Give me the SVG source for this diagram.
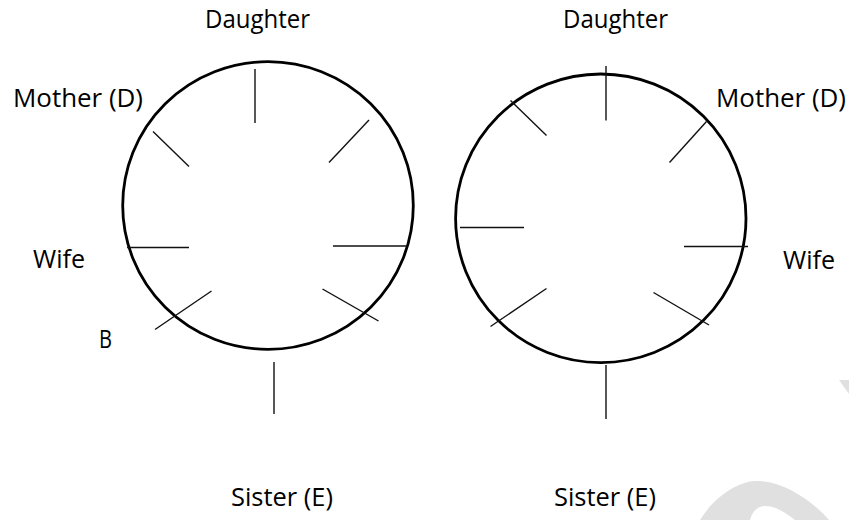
<svg xmlns="http://www.w3.org/2000/svg" width="849" height="520" viewBox="0 0 849 520">
  <style>
    .table { fill: none; stroke: #000; stroke-width: 2.8; }
    .seat { stroke: #111; stroke-width: 1.4; fill: none; }
    .lbl { font-family: "Open Sans", "Noto Sans", "Liberation Sans", sans-serif; font-size: 25px; fill: #000; }
    .wm { fill: #e0e0e0; stroke: none; }
  </style>
  <rect width="849" height="520" fill="#fff"/>
  <g id="watermark">
    <path class="wm" d="M700,520 C712,500 735,482 755,481 C780,480 810,498 829,520 L795,520 C785,512 775,506 765,506 C757,506 752,512 750,520 Z"/>
    <path class="wm" d="M839,380 L849,380 L849,394 Z"/>
  </g>
  <g id="table-left">
    <ellipse class="table" cx="268" cy="205.5" rx="145.3" ry="143.8"/>
    <g id="seats-left">
      <line class="seat" x1="255" y1="69" x2="255" y2="123"/>
      <line class="seat" x1="153" y1="131.5" x2="189" y2="166.5"/>
      <line class="seat" x1="369" y1="120" x2="329" y2="162.5"/>
      <line class="seat" x1="127" y1="247.5" x2="189" y2="247.5"/>
      <line class="seat" x1="333" y1="246" x2="407" y2="246"/>
      <line class="seat" x1="211.5" y1="291" x2="155" y2="329.5"/>
      <line class="seat" x1="322.5" y1="289" x2="378.5" y2="321"/>
      <line class="seat" x1="274" y1="362" x2="274" y2="414"/>
    </g>
  </g>
  <g id="table-right">
    <ellipse class="table" cx="600.8" cy="218.3" rx="145.2" ry="144.3"/>
    <g id="seats-right">
      <line class="seat" x1="606" y1="66" x2="606" y2="120.5"/>
      <line class="seat" x1="510.5" y1="100.5" x2="546.5" y2="135.5"/>
      <line class="seat" x1="706.5" y1="121.5" x2="669.5" y2="162.5"/>
      <line class="seat" x1="460" y1="227.5" x2="524" y2="227.5"/>
      <line class="seat" x1="684" y1="246.5" x2="748" y2="246.5"/>
      <line class="seat" x1="546.5" y1="288.5" x2="490.5" y2="326.5"/>
      <line class="seat" x1="653.5" y1="292.5" x2="709" y2="325"/>
      <line class="seat" x1="606" y1="365" x2="606" y2="419"/>
    </g>
  </g>
  <g id="label-daughter-left"><text class="lbl" x="205" y="28" textLength="105" lengthAdjust="spacingAndGlyphs">Daughter</text></g>
  <g id="label-mother-left"><text class="lbl" x="13" y="107" textLength="130" lengthAdjust="spacingAndGlyphs">Mother (D)</text></g>
  <g id="label-wife-left"><text class="lbl" x="33" y="268" textLength="52" lengthAdjust="spacingAndGlyphs">Wife</text></g>
  <g id="label-b"><text class="lbl" x="99" y="348" textLength="13" lengthAdjust="spacingAndGlyphs">B</text></g>
  <g id="label-sister-left"><text class="lbl" x="231" y="506" textLength="102" lengthAdjust="spacingAndGlyphs">Sister (E)</text></g>
  <g id="label-daughter-right"><text class="lbl" x="563" y="28" textLength="105" lengthAdjust="spacingAndGlyphs">Daughter</text></g>
  <g id="label-mother-right"><text class="lbl" x="716" y="107" textLength="130" lengthAdjust="spacingAndGlyphs">Mother (D)</text></g>
  <g id="label-wife-right"><text class="lbl" x="783" y="269" textLength="52" lengthAdjust="spacingAndGlyphs">Wife</text></g>
  <g id="label-sister-right"><text class="lbl" x="554" y="506" textLength="102" lengthAdjust="spacingAndGlyphs">Sister (E)</text></g>
</svg>
